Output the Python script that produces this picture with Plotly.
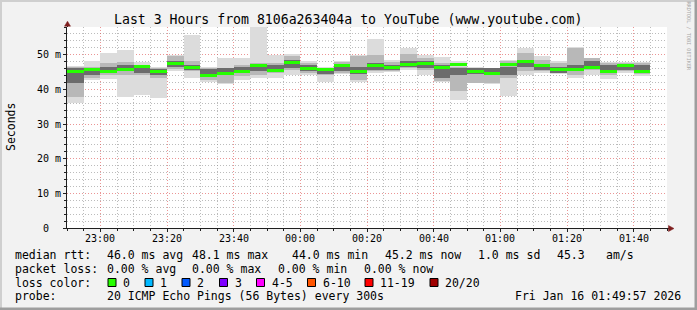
import plotly.graph_objects as go
import pandas as pd

# ---------------- data ----------------
start_time = "2026-01-15 22:50:00"
end_time = "2026-01-16 01:50:00"
step = "5min"

rtt_min = [36.2, 42.6, 43.0, 37.7, 38.5, 37.4, 45.2, 43.2, 42.0, 41.6, 42.6, 43.2, 43.2, 44.2, 44.1, 42.0, 44.4, 42.0,
           44.7, 44.9, 45.7, 44.1, 42.1, 36.8, 41.8, 41.5, 38.0, 44.2, 44.7, 44.4, 43.3, 44.2, 43.1, 44.7, 44.0]
rtt_lo2 = [37.8, 43.3, 44.2, 44.2, 44.2, 43.3, 46.0, 45.2, 42.8, 41.9, 43.8, 44.2, 44.7, 45.7, 44.7, 44.2, 44.7, 42.8,
           45.2, 45.2, 46.2, 45.7, 42.3, 39.4, 41.9, 41.8, 43.3, 45.2, 45.2, 44.7, 44.2, 45.7, 44.2, 45.2, 44.4]
rtt_lo1 = [41.8, 44.2, 44.7, 45.2, 44.7, 44.2, 46.6, 45.7, 43.8, 44.2, 44.7, 45.2, 45.4, 46.2, 45.2, 44.4, 45.2, 44.4,
           45.7, 45.5, 46.4, 46.2, 43.3, 44.2, 44.4, 44.2, 44.2, 46.6, 45.7, 44.7, 45.2, 46.2, 45.2, 45.7, 45.2]
rtt_med = [45.2, 45.7, 45.2, 45.7, 46.6, 45.1, 47.5, 46.4, 44.0, 44.5, 45.1, 46.8, 45.5, 47.8, 46.0, 45.7, 46.9, 45.1,
           46.9, 46.3, 47.1, 47.5, 46.4, 47.3, 45.1, 44.7, 47.3, 48.0, 46.9, 45.7, 45.8, 46.2, 45.3, 46.8, 45.2]
rtt_hi1 = [46.2, 46.2, 46.6, 47.1, 46.6, 46.0, 48.1, 46.9, 46.0, 46.2, 46.6, 46.6, 47.1, 48.6, 47.1, 46.2, 47.3, 46.6,
           47.6, 47.1, 48.1, 48.1, 47.1, 46.3, 46.2, 46.2, 46.6, 48.6, 47.1, 46.6, 47.1, 48.1, 47.1, 47.1, 47.1]
rtt_hi2 = [46.4, 46.6, 47.6, 48.0, 47.1, 46.2, 49.5, 48.3, 46.2, 46.3, 47.1, 47.6, 47.6, 49.5, 47.6, 46.3, 47.8, 49.5,
           50.0, 47.9, 50.2, 49.2, 47.6, 46.4, 46.3, 46.2, 48.1, 50.5, 48.6, 47.6, 51.9, 49.0, 47.6, 47.6, 47.6]
rtt_max = [46.8, 48.1, 50.5, 51.4, 48.0, 46.4, 49.9, 55.6, 46.6, 49.1, 49.1, 58.0, 50.0, 50.3, 48.2, 46.4, 48.2, 50.0,
           54.6, 48.6, 51.9, 49.8, 49.4, 48.1, 46.6, 46.3, 48.6, 51.9, 49.5, 48.1, 52.1, 49.2, 47.9, 47.9, 47.9]

x_tick_vals = ["2026-01-15 23:00", "2026-01-15 23:20", "2026-01-15 23:40", "2026-01-16 00:00", "2026-01-16 00:20",
               "2026-01-16 00:40", "2026-01-16 01:00", "2026-01-16 01:20", "2026-01-16 01:40"]
x_tick_labels = ["23:00", "23:20", "23:40", "00:00", "00:20", "00:40", "01:00", "01:20", "01:40"]
y_tick_vals = [0, 10, 20, 30, 40, 50]
y_tick_labels = ["0\u00a0\u00a0", "10 m", "20 m", "30 m", "40 m", "50 m"]

title_text = "Last 3 Hours from 8106a263404a to YouTube (www.youtube.com)"
rtt_stats = ["46.0 ms avg", "48.1 ms max", "44.0 ms min", "45.2 ms now", "1.0 ms sd", "45.3", "am/s"]
loss_stats = ["0.00 % avg", "0.00 % max", "0.00 % min", "0.00 % now"]
loss_labels = ["0", "1", "2", "3", "4-5", "6-10", "11-19", "20/20"]
loss_colors = ["#26ff00", "#00b8ff", "#0059ff", "#7e00ff", "#ff00ff", "#ff5500", "#ff0000", "#a00000"]
probe_text = "20 ICMP Echo Pings (56 Bytes) every 300s"
stamp_text = "Fri Jan 16 01:49:57 2026"

# ---------------- layout helpers ----------------
W, H = 697, 310
L, R, T, B = 67, 667, 27, 228
MONO = "DejaVu Sans Mono"


def PX(px):
    return (px - L) / (R - L)


def PY(py):
    return (B - py) / (B - T)


n = len(rtt_med)
starts = pd.date_range(start_time, periods=n, freq=step)
centers = starts + pd.Timedelta(step) / 2
bar_w = pd.Timedelta(step).total_seconds() * 1000

fig = go.Figure()


def band(lo, hi, color):
    fig.add_trace(go.Bar(x=centers, y=[h - l for l, h in zip(lo, hi)], base=lo, width=bar_w,
                         marker=dict(color=color, line=dict(width=0)), hoverinfo="skip", showlegend=False))


band(rtt_min, rtt_max, "#dcdcdc")
band(rtt_lo2, rtt_hi2, "#b8b8b8")
band(rtt_lo1, rtt_hi1, "#6c6c6c")
med_h = 0.87
band([m - med_h / 2 for m in rtt_med], [m + med_h / 2 for m in rtt_med], loss_colors[0])

grid_minor = "rgba(143,143,143,0.6)"
grid_major = "rgba(222,79,79,0.6)"
dash = "1px,2px"

fig.update_layout(
    width=W, height=H,
    margin=dict(l=L, r=W - R, t=T, b=H - B, pad=0),
    paper_bgcolor="#f2f2f2", plot_bgcolor="#ffffff",
    barmode="overlay", bargap=0, showlegend=False,
    font=dict(family=MONO, color="#000000"),
    xaxis=dict(type="date", range=[start_time, end_time], showticklabels=False,
               tick0=x_tick_vals[0], dtick=20 * 60 * 1000,
               showgrid=True, gridcolor=grid_major, griddash=dash, gridwidth=1,
               ticks="outside", ticklen=3, tickcolor="#1f1f1f",
               minor=dict(dtick=5 * 60 * 1000, showgrid=True, gridcolor=grid_minor, griddash=dash,
                          ticks="outside", ticklen=2, tickcolor="#1f1f1f"),
               showline=True, linecolor="#1f1f1f", linewidth=1, zeroline=False, fixedrange=True),
    yaxis=dict(range=[0, 58], showticklabels=False, tick0=0, dtick=10,
               showgrid=True, gridcolor=grid_major, griddash=dash, gridwidth=1,
               ticks="outside", ticklen=3, tickcolor="#1f1f1f",
               minor=dict(dtick=2, showgrid=True, gridcolor=grid_minor, griddash=dash,
                          ticks="outside", ticklen=2, tickcolor="#1f1f1f"),
               showline=True, linecolor="#1f1f1f", linewidth=1, zeroline=False, fixedrange=True),
)

ann = []


def text(px, py, s, size=11.5, anchor="left", color="#000000", angle=0, xref="paper", xval=None):
    ann.append(dict(x=PX(px) if xval is None else xval, y=PY(py), xref=xref, yref="paper", text=s,
                    showarrow=False, xanchor=anchor, yanchor="middle", textangle=angle,
                    font=dict(family=MONO, size=size, color=color), borderpad=0, borderwidth=0))


# title
text(347.5, 19.5, title_text, size=13.2, anchor="center")
# y axis title
text(10.5, 127.5, "Seconds", size=11.5, anchor="center", angle=-90)
# watermark
text(688, 36.5, "RRDTOOL / TOBI OETIKER", size=5.2, anchor="center", angle=90, color="#a8a8a8")

# y tick labels
for v, s in zip(y_tick_vals, y_tick_labels):
    ann.append(dict(x=PX(60.8), y=v, xref="paper", yref="y", text=s, showarrow=False, xanchor="right",
                    yanchor="middle", font=dict(family=MONO, size=10, color="#000000"), borderpad=0, borderwidth=0))
# x tick labels
for v, s in zip(x_tick_vals, x_tick_labels):
    text(0, 238.2, s, size=10, anchor="center", xref="x", xval=v)

# legend rows
row_y = [254.5, 268.5, 282.5, 296.2]
text(15.3, row_y[0], "median rtt:")
for px, s in zip([106.8, 191.7, 291.7, 385.1, 478.3, 557.1, 606.0], rtt_stats):
    text(px, row_y[0], s)
text(15.3, row_y[1], "packet loss:")
for px, s in zip([106.8, 191.7, 278.3, 363.7], loss_stats):
    text(px, row_y[1], s)
text(15.3, row_y[2], "loss color:")
swatch_x = [108, 145, 182, 219.5, 256.5, 307.5, 365, 430]
shapes = []
for sx, s, c in zip(swatch_x, loss_labels, loss_colors):
    shapes.append(dict(type="rect", xref="paper", yref="paper", x0=PX(sx), x1=PX(sx + 8),
                       y0=PY(278.5), y1=PY(286.5), fillcolor=c, line=dict(color="#000000", width=1)))
    text(sx + 15, row_y[2], s)
text(15.3, row_y[3], "probe:")
text(106.8, row_y[3], probe_text)
text(680.5, row_y[3], stamp_text, anchor="right")

# frame (3D border)
shapes += [
    dict(type="rect", xref="paper", yref="paper", x0=PX(0), x1=PX(W), y0=PY(0), y1=PY(2),
         fillcolor="#cfcfcf", line=dict(width=0)),
    dict(type="rect", xref="paper", yref="paper", x0=PX(0), x1=PX(2), y0=PY(0), y1=PY(H),
         fillcolor="#cfcfcf", line=dict(width=0)),
    dict(type="rect", xref="paper", yref="paper", x0=PX(W - 2.5), x1=PX(W), y0=PY(0), y1=PY(H),
         fillcolor="#9e9e9e", line=dict(width=0)),
    dict(type="rect", xref="paper", yref="paper", x0=PX(0), x1=PX(W), y0=PY(H - 2.5), y1=PY(H),
         fillcolor="#9e9e9e", line=dict(width=0)),
    # axis extensions
    dict(type="line", xref="paper", yref="paper", x0=PX(R), x1=PX(669), y0=PY(228.5), y1=PY(228.5),
         line=dict(color="#1f1f1f", width=1)),
    dict(type="line", xref="paper", yref="paper", x0=PX(67.5), x1=PX(67.5), y0=PY(T), y1=PY(25),
         line=dict(color="#1f1f1f", width=1)),
    # arrows
    dict(type="path", xref="paper", yref="paper",
         path=f"M {PX(64.5)} {PY(26.2)} L {PX(67.5)} {PY(21.2)} L {PX(70.5)} {PY(26.2)} Z",
         fillcolor="#7f1f1f", line=dict(color="#7f1f1f", width=0.5)),
    dict(type="path", xref="paper", yref="paper",
         path=f"M {PX(668.5)} {PY(225.5)} L {PX(674)} {PY(228.5)} L {PX(668.5)} {PY(231.5)} Z",
         fillcolor="#7f1f1f", line=dict(color="#7f1f1f", width=0.5)),
]

fig.update_layout(annotations=ann, shapes=shapes)
fig.write_html("out.html")
